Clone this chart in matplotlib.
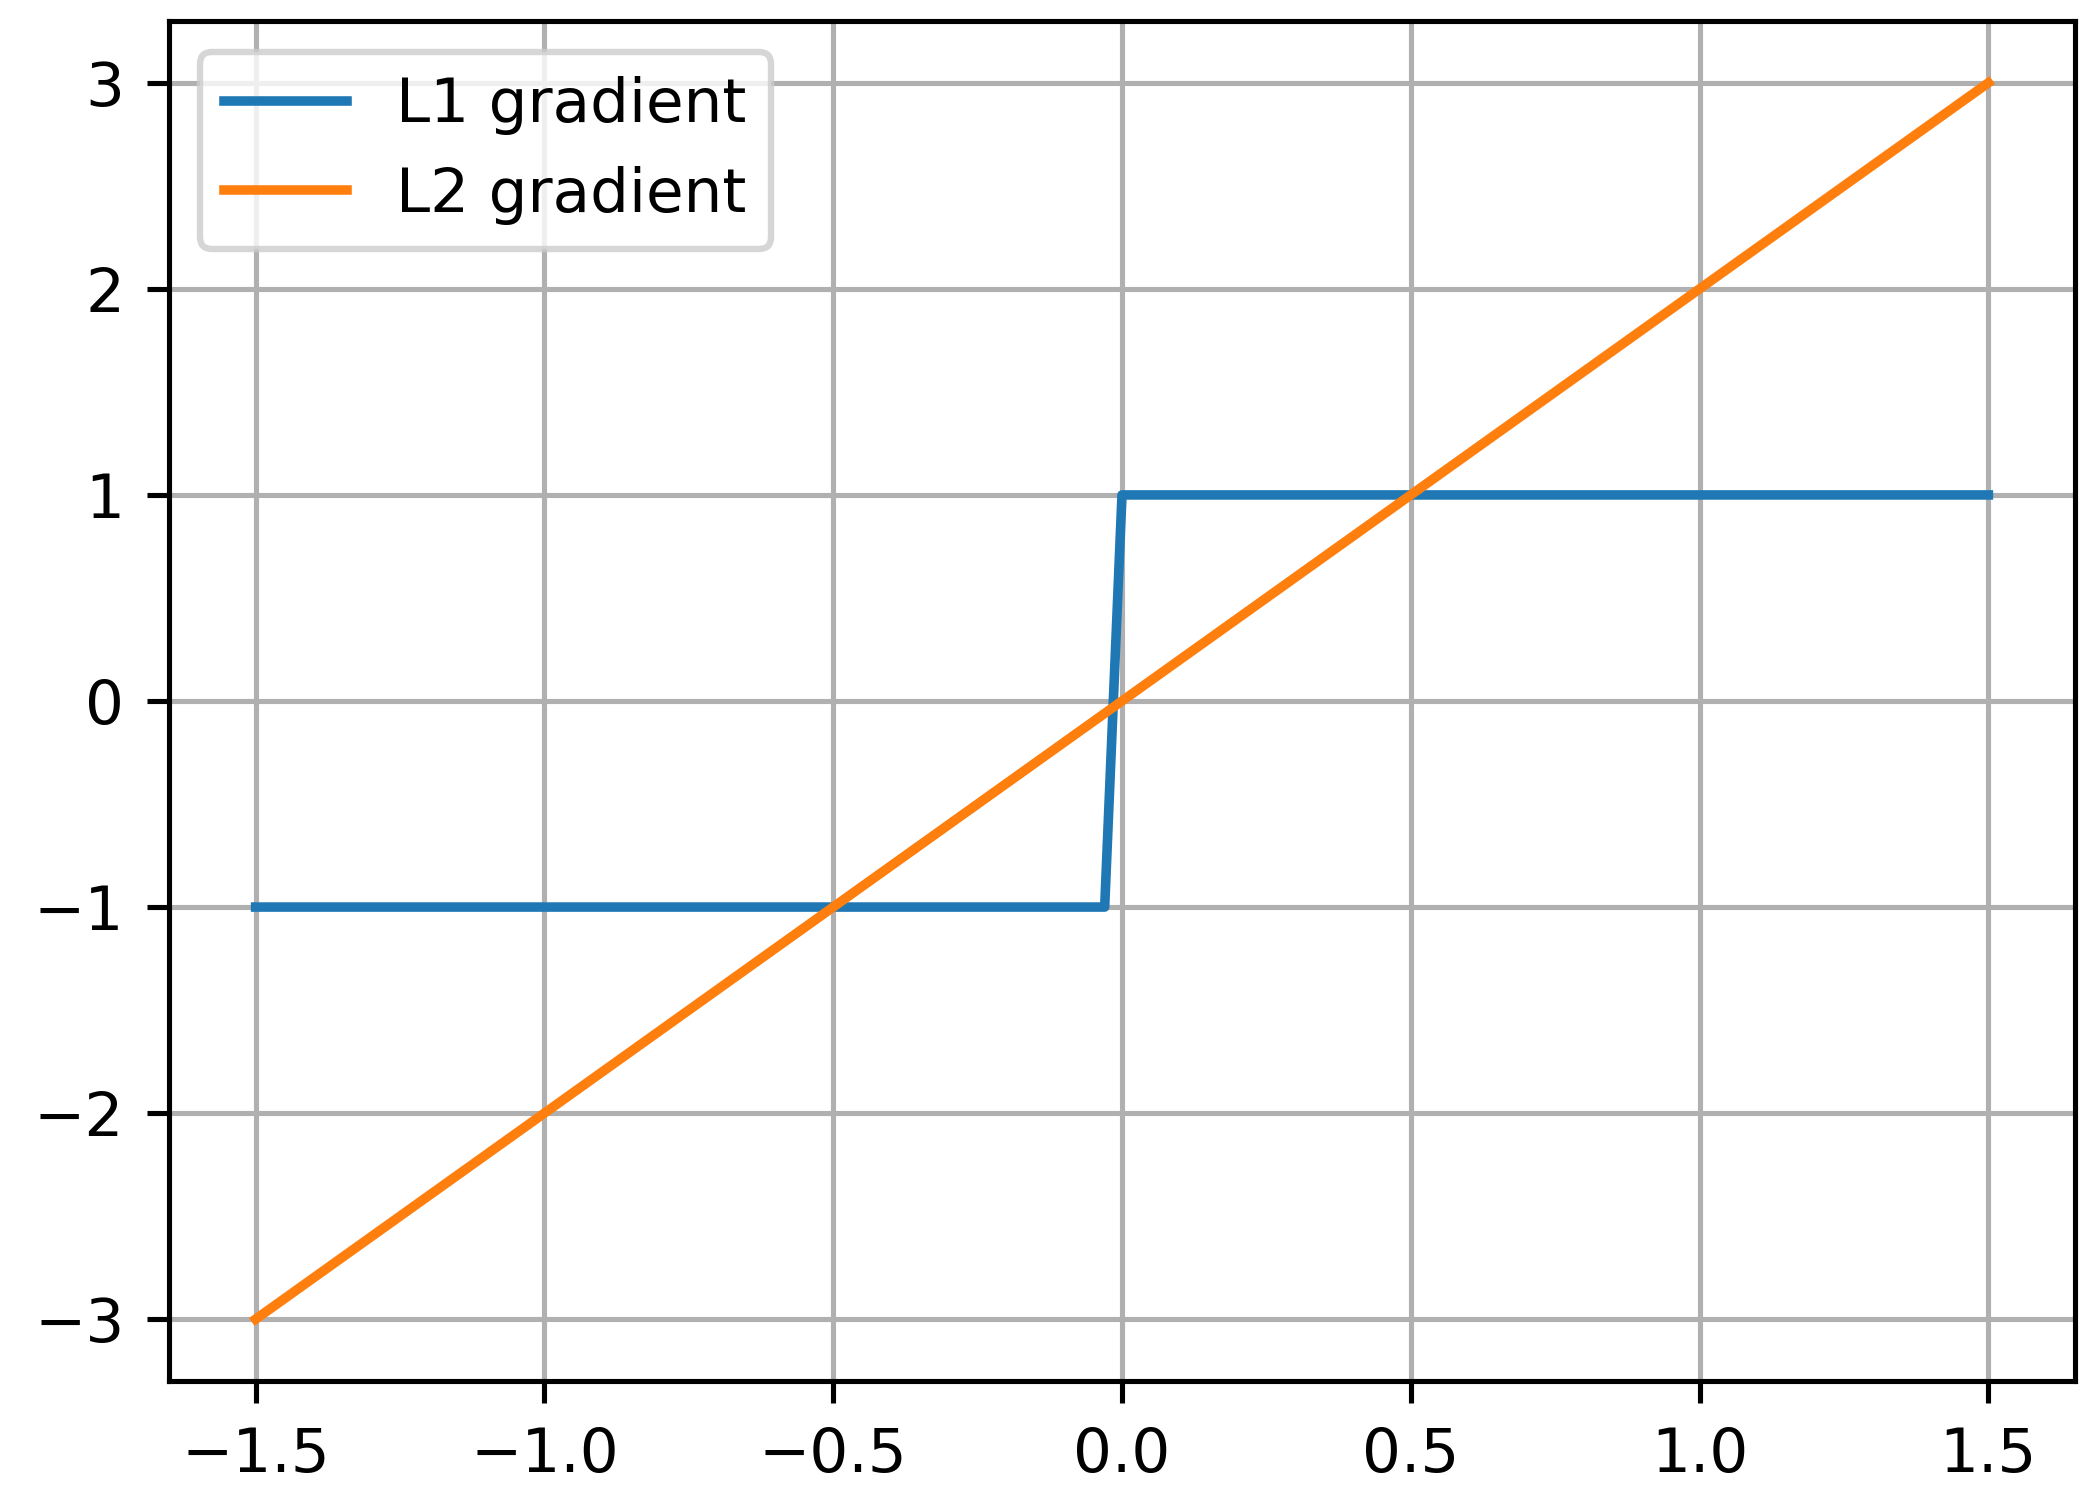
import matplotlib
matplotlib.use("Agg")
import matplotlib.pyplot as plt

# Sampled points of the two gradient curves
x_l1 = [-1.5, -0.03, 0.0, 1.5]
l1_grad = [-1.0, -1.0, 1.0, 1.0]

x_l2 = [-1.5, 1.5]
l2_grad = [-3.0, 3.0]

xticks = [-1.5, -1.0, -0.5, 0.0, 0.5, 1.0, 1.5]
yticks = [-3, -2, -1, 0, 1, 2, 3]

plt.rcParams["font.size"] = 9.6

DPI = 460
fig = plt.figure(figsize=(2100 / DPI, 1487 / DPI), dpi=DPI)
ax = fig.add_axes([169 / 2100, 1 - 1381 / 1487, 1906 / 2100, 1360 / 1487])

ax.plot(x_l1, l1_grad, color="tab:blue", label="L1 gradient")
ax.plot(x_l2, l2_grad, color="tab:orange", label="L2 gradient")

ax.set_xticks(xticks)
ax.set_yticks(yticks)
ax.grid(True)
ax.legend(loc="upper left")

fig.savefig("out.png", dpi=DPI)
